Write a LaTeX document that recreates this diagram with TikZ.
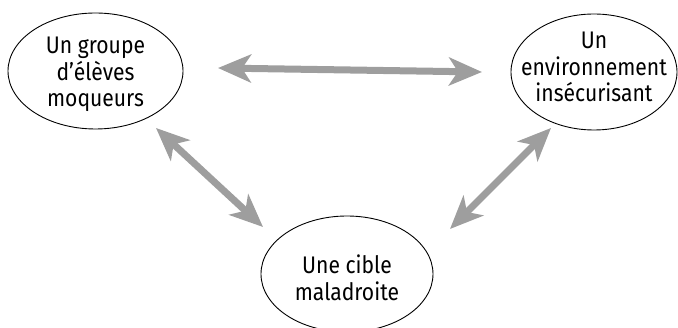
\documentclass[tikz,border=0pt]{standalone}
\usepackage{fontspec}
\setmainfont{Fira Sans}[FakeStretch=0.88]
\usetikzlibrary{arrows.meta,shapes.geometric}
\definecolor{arrowgray}{RGB}{158,158,158}
\tikzset{
  bubble/.style={draw=black, line width=0.9pt, ellipse, inner sep=0pt},
  bubbletext/.style={inner sep=0pt, align=center, font=\fontsize{24}{26.5}\selectfont},
  link/.style={draw=arrowgray, line width=7pt,
    {Stealth[length=33pt,width=28pt,inset=9pt]}-{Stealth[length=33pt,width=28pt,inset=9pt]}}
}
\begin{document}
\begin{tikzpicture}[x=1pt,y=-1pt]
\useasboundingbox (0,0) rectangle (678,328);
\node[bubble, minimum width=175pt, minimum height=116pt] (g) at (95.5,71) {};
\node[bubble, minimum width=166pt, minimum height=116pt] (e) at (594,72) {};
\node[bubble, minimum width=172pt, minimum height=116pt] (c) at (347,274) {};
\node[bubbletext] (gt) at (95.5,74.5) {Un groupe\\d’élèves\\moqueurs};
\node[bubbletext] (et) at (594,67) {Un\\environnement\\insécurisant};
\node[bubbletext] (ct) at (347,278) {Une cible\\maladroite};
\coordinate (ge1) at (218,68);
\coordinate (ge2) at (482,72);
\coordinate (gc1) at (156,128);
\coordinate (gc2) at (263,227);
\coordinate (ec1) at (551,128);
\coordinate (ec2) at (450,229);
\draw[link] (ge1) -- (ge2);
\draw[link] (gc1) -- (gc2);
\draw[link] (ec1) -- (ec2);
\end{tikzpicture}
\end{document}
